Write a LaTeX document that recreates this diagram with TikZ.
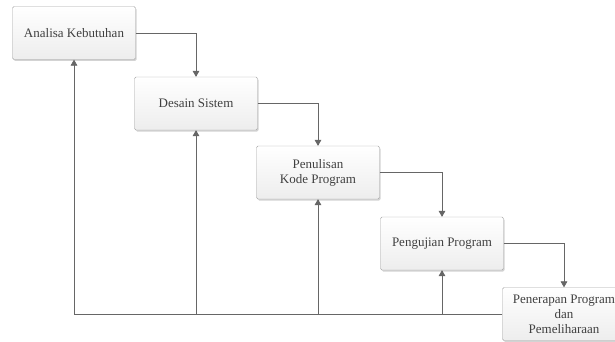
\documentclass[tikz,border=0pt]{standalone}
\usepackage{fontspec}
\setmainfont{Liberation Serif}
\usepackage{tikz}
\usetikzlibrary{arrows,positioning,shadows}

\begin{document}
\begin{tikzpicture}[x=1pt,y=-1pt,>=triangle 60,
    tahap/.style={draw=gray!70,rounded corners=1.5pt,top color=white,bottom color=gray!14,
        drop shadow={opacity=0.35,shadow xshift=1pt,shadow yshift=-1.5pt},
        minimum width=123pt,minimum height=53pt,inner sep=0pt,align=center,
        text=black!75,font=\fontsize{13}{15}\selectfont},
    alur/.style={->,draw=black!60,line width=0.6pt}]
    \useasboundingbox (0,0) rectangle (615,342);

    \node[tahap] (analisa) at (74,33) {Analisa Kebutuhan};
    \node[tahap] (desain) at (196,103.5) {Desain Sistem};
    \node[tahap] (kode) at (318,172.5) {Penulisan\\Kode Program};
    \node[tahap] (uji) at (442,243.5) {Pengujian Program};
    \node[tahap] (terap) at (564,314) {Penerapan Program\\dan\\Pemeliharaan};

    \draw[alur] (analisa.east) -| (desain.north);
    \draw[alur] (desain.east) -| (kode.north);
    \draw[alur] (kode.east) -| (uji.north);
    \draw[alur] (uji.east) -| (terap.north);

    \draw[alur] (terap.west) -| (analisa.south);
    \draw[alur] (desain.south |- terap.west) -- (desain.south);
    \draw[alur] (kode.south |- terap.west) -- (kode.south);
    \draw[alur] (uji.south |- terap.west) -- (uji.south);
\end{tikzpicture}
\end{document}
